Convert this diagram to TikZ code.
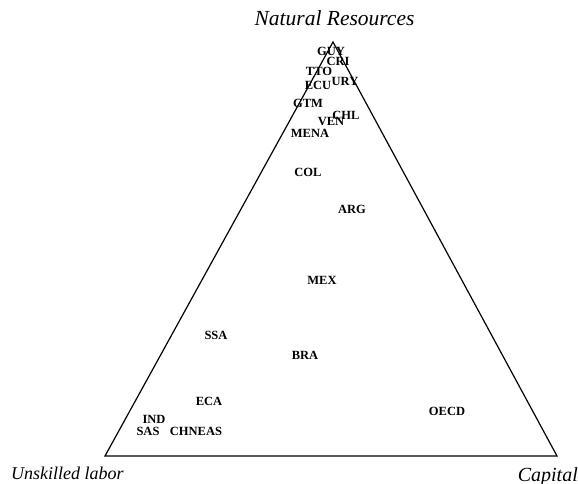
\documentclass[tikz,border=0pt]{standalone}
\usepackage{fontspec}
\setmainfont{Liberation Serif}
\begin{document}
\begin{tikzpicture}[x=1pt,y=-1pt,
  lbl/.style={font=\fontsize{12.5}{12.5}\selectfont\bfseries, inner sep=0pt},
  corner/.style={font=\fontsize{20}{20}\selectfont\itshape, inner sep=0pt},
  edge/.style={line width=1.2pt, line join=miter}]
\useasboundingbox (0,0) rectangle (578,484);
\coordinate (L) at (105,456);
\coordinate (R) at (557,456);
\coordinate (T) at (333,42);
\draw[edge] (L) -- (R) -- (T) -- cycle;
\node[corner, font=\fontsize{21.5}{21.5}\selectfont\itshape, anchor=base] (nr) at (334.5,26) {Natural Resources};
\node[corner, font=\fontsize{18}{18}\selectfont\itshape, anchor=base west] (ul) at (11,479) {Unskilled labor};
\node[corner, anchor=base east] (cap) at (578,481) {Capital};
\node[lbl] (guy) at (331,51) {GUY};
\node[lbl] (cri) at (338,61) {CRI};
\node[lbl] (tto) at (319,71) {TTO};
\node[lbl] (ury) at (345,81) {URY};
\node[lbl] (ecu) at (318,85) {ECU};
\node[lbl] (gtm) at (308,103) {GTM};
\node[lbl] (chl) at (346,115) {CHL};
\node[lbl] (ven) at (331,122) {VEN};
\node[lbl] (mena) at (310,133) {MENA};
\node[lbl] (col) at (308,172) {COL};
\node[lbl] (arg) at (352,209) {ARG};
\node[lbl] (mex) at (322,280) {MEX};
\node[lbl] (ssa) at (216,335) {SSA};
\node[lbl] (bra) at (305,355) {BRA};
\node[lbl] (eca) at (209,401) {ECA};
\node[lbl] (ind) at (154,419) {IND};
\node[lbl] (sas) at (148,431) {SAS};
\node[lbl] (chneas) at (196,431) {CHNEAS};
\node[lbl] (oecd) at (447,411) {OECD};
\end{tikzpicture}
\end{document}
